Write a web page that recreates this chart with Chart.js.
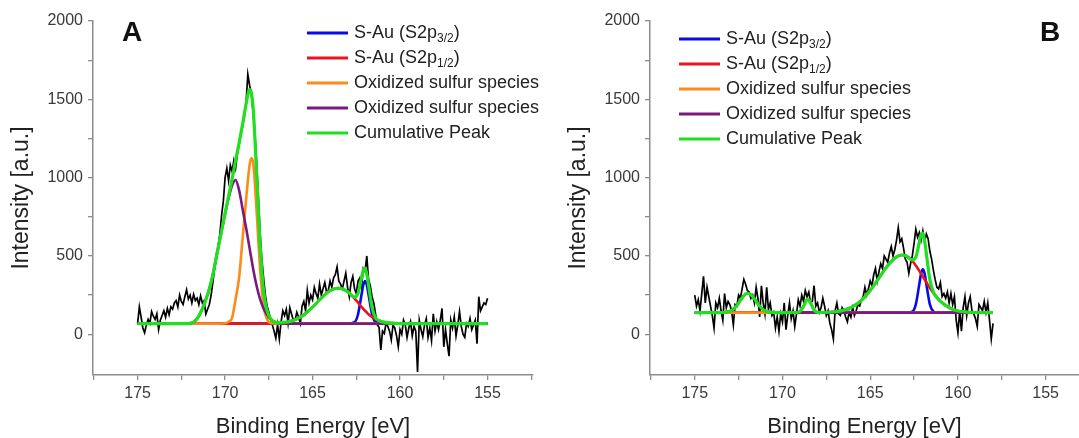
<!DOCTYPE html>
<html>
<head>
<meta charset="utf-8">
<title>S 2p spectra</title>
<script src="https://cdn.jsdelivr.net/npm/chart.js@4.4.1/dist/chart.umd.min.js"></script>
<style>
  html, body { margin: 0; padding: 0; background: #fff; overflow: hidden; }
  #wrap { position: relative; width: 1079px; height: 438px; }
  canvas { position: absolute; top: 0; }
  #chartA { left: 0; }
  #chartB { left: 557px; }
</style>
</head>
<body>
<div id="wrap">
  <canvas id="chartA" width="540" height="438"></canvas>
  <canvas id="chartB" width="522" height="438"></canvas>
</div>
<script>
// recorded spectra, first point at 175.0 eV, one point every 0.1 eV going down
const scanStart = 175.0;
const scanStep = 0.1;

const measuredA = [
  70, 175, 110, 40, 10, 60, 95, 70, 145, 115,
  95, 130, 30, 90, 120, 150, 110, 165, 125, 175,
  160, 200, 215, 175, 250, 210, 190, 240, 285, 225,
  250, 200, 255, 215, 230, 190, 245, 200, 215, 130,
  160, 190, 250, 330, 420, 480, 560, 640, 760, 850,
  1000, 1060, 980, 1080, 1040, 1110, 1060, 1150, 1210, 1280,
  1330, 1390, 1480, 1660, 1590, 1540, 1420, 1290, 1100, 880,
  650, 480, 360, 250, 180, 140, 100, 60, 20, -25,
  60, -30, 80, 150, 120, 160, 70, 170, 130, 90,
  90, 140, 110, 70, 180, 210, 150, 280, 200, 250,
  220, 300, 260, 230, 320, 250, 290, 330, 270, 280,
  340, 300, 360, 380, 430, 340, 320, 290, 340, 390,
  300, 240, 330, 370, 290, 260, 340, 360, 300, 420,
  400, 500, 350, 310, 240, 200, 130, 60, 45, -100,
  20, 5, 70, 50, 20, -35, 60, 40, -10, -80,
  30, 0, 90, 60, -20, 40, 80, -10, 50, 20,
  -240, 90, 30, -15, 60, 100, -20, 40, -40, 130,
  20, 80, 30, 90, 165, -80, 30, -60, -140, 90,
  40, 110, -10, 60, 145, 50, 0, -20, 70, 50,
  100, 30, 60, 90, -60, 240, 150, 175, 200, 190,
  230
];

const measuredB = [
  250, 180, 220, 150, 260, 370, 200, 300, 240, 180,
  120, 40, 200, 170, 230, 150, 90, 260, 170, 210,
  190, 150, 60, 190, 180, 250, 230, 290, 350, 320,
  280, 270, 230, 250, 200, 300, 230, 110, 310, 200,
  130, 300, 160, 200, 120, 140, 40, 110, 20, 130,
  80, 200, 30, 120, 200, 100, 150, 50, 130, 220,
  180, 250, 210, 280, 240, 270, 200, 210, 310, 180,
  200, 140, 170, 230, 180, 120, 150, 70, 30, -30,
  150, 200, 130, 120, 170, 150, 110, 80, 140, 110,
  170, 120, 150, 190, 180, 220, 240, 300, 250, 290,
  340, 310, 380, 420, 340, 400, 450, 420, 500, 480,
  460, 520, 560, 500, 540, 600, 680, 590, 610, 550,
  480, 460, 390, 450, 500, 580, 670, 620, 650, 600,
  660, 590, 640, 610, 530, 480, 410, 350, 300, 290,
  330, 240, 260, 230, 270, 200, 260, 190, 240, 90,
  10, 150, 20, 170, 240, 120, 200, 240, 150, 130,
  100, 50, 190, 170, 150, 210, 140, 200, 90, -30,
  70
];

// peak fit, panel A
const fitEnergyA = [175, 172.4, 172.0, 171.6, 171.2, 170.8, 170.4, 170.0, 169.8, 169.6,
  169.4, 169.2, 169.0, 168.8, 168.6, 168.5, 168.4, 168.2, 168.0, 167.8,
  167.6, 167.4, 167.0, 166.5, 166.0, 165.5, 165.0, 164.5, 164.0, 163.5,
  163.0, 162.6, 162.4, 162.2, 162.1, 162.0, 161.9, 161.8, 161.6, 161.4,
  161.2, 161.0, 160.5, 160.0, 155];
const s32A = [68, 68, 68, 68, 68, 68, 68, 68, 68, 68,
  68, 68, 68, 68, 68, 68, 68, 68, 68, 68,
  68, 68, 68, 68, 68, 68, 68, 68, 68, 68,
  68, 77, 128, 254, 315, 340, 315, 254, 128, 77,
  69, 68, 68, 68, 68];
const s12A = [68, 68, 68, 68, 68, 68, 68, 68, 68, 68,
  68, 68, 68, 68, 68, 68, 68, 68, 68, 68,
  68, 68, 71, 77, 93, 124, 173, 231, 278, 294,
  272, 228, 202, 175, 162, 150, 139, 128, 110, 96,
  86, 79, 71, 68, 68];
const oxA1 = [68, 68, 68, 68, 68, 68, 68, 70, 80, 105,
  225, 360, 610, 860, 1080, 1124, 1100, 790, 420, 180,
  95, 72, 68, 68, 68, 68, 68, 68, 68, 68,
  68, 68, 68, 68, 68, 68, 68, 68, 68, 68,
  68, 68, 68, 68, 68];
const oxA2 = [68, 68, 70, 100, 190, 330, 550, 770, 870, 950,
  985, 920, 800, 680, 550, 485, 420, 310, 225, 165,
  125, 95, 72, 68, 68, 68, 68, 68, 68, 68,
  68, 68, 68, 68, 68, 68, 68, 68, 68, 68,
  68, 68, 68, 68, 68];
const cumA = [68, 68, 70, 100, 190, 330, 550, 772, 882, 990,
  1110, 1220, 1340, 1470, 1562, 1541, 1452, 1032, 577, 277,
  152, 99, 75, 77, 93, 124, 173, 231, 278, 294,
  272, 237, 262, 361, 409, 422, 386, 314, 170, 105,
  87, 79, 71, 68, 68];

// peak fit, panel B
const fitEnergyB = [175, 173.6, 173.4, 173.0, 172.8, 172.6, 172.4, 172.2, 172.0, 171.8,
  171.6, 171.4, 171.2, 171.0, 170.6, 170.2, 169.6, 169.2, 169.0, 168.8,
  168.6, 168.5, 168.4, 168.2, 168.0, 167.8, 167.0, 166.5, 166.0, 165.5,
  165.0, 164.5, 164.0, 163.5, 163.2, 163.0, 162.6, 162.4, 162.2, 162.1,
  162.0, 161.9, 161.8, 161.6, 161.4, 161.2, 161.0, 160.5, 160.0, 159.5,
  159.0, 158.0];
const s32B = [138, 138, 138, 138, 138, 138, 138, 138, 138, 138,
  138, 138, 138, 138, 138, 138, 138, 138, 138, 138,
  138, 138, 138, 138, 138, 138, 138, 138, 138, 138,
  138, 138, 138, 138, 138, 138, 145, 191, 321, 387,
  415, 387, 321, 191, 145, 138, 138, 138, 138, 138,
  138, 138];
const s12B = [138, 138, 138, 138, 138, 138, 138, 138, 138, 138,
  138, 138, 138, 138, 138, 138, 138, 138, 138, 138,
  138, 138, 138, 138, 138, 139, 144, 154, 176, 216,
  279, 360, 439, 494, 506, 503, 468, 439, 405, 387,
  369, 350, 332, 296, 263, 235, 211, 170, 149, 142,
  139, 138];
const oxB1 = [138, 138, 138, 138, 138, 138, 138, 138, 138, 138,
  138, 138, 138, 138, 138, 138, 138, 139, 146, 179,
  221, 219, 200, 155, 140, 138, 138, 138, 138, 138,
  138, 138, 138, 138, 138, 138, 138, 138, 138, 138,
  138, 138, 138, 138, 138, 138, 138, 138, 138, 138,
  138, 138];
const oxB2 = [138, 138, 139, 147, 161, 184, 216, 247, 262, 253,
  226, 194, 167, 150, 140, 138, 138, 138, 138, 138,
  138, 138, 138, 138, 138, 138, 138, 138, 138, 138,
  138, 138, 138, 138, 138, 138, 138, 138, 138, 138,
  138, 138, 138, 138, 138, 138, 138, 138, 138, 138,
  138, 138];
const cumB = [138, 138, 139, 147, 161, 184, 216, 247, 262, 253,
  226, 194, 167, 150, 140, 138, 138, 139, 146, 179,
  221, 219, 200, 155, 140, 139, 144, 154, 176, 216,
  279, 360, 439, 494, 506, 503, 475, 492, 588, 636,
  646, 599, 515, 349, 270, 235, 211, 170, 149, 142,
  139, 138];

const seriesLabels = ['S-Au (S2p_{3/2})', 'S-Au (S2p_{1/2})', 'Oxidized sulfur species',
  'Oxidized sulfur species', 'Cumulative Peak'];
const yTicks = [0, 250, 500, 750, 1000, 1250, 1500, 1750, 2000];
const xTicks = [177.5, 175, 172.5, 170, 167.5, 165, 162.5, 160, 157.5, 155, 152.5];

const FONT = "'Liberation Sans', Arial, sans-serif";
const AXIS_GREY = '#8c8c8c';
const colors = ['#0a0ae6', '#e8141e', '#ff8a1a', '#7a1a7e', '#1fe01f'];
const widths = [2.6, 2.6, 2.6, 2.6, 3.2];
const drawOrder = [4, 3, 2, 1, 0];

function points(xs, ys) {
  return xs.map((x, i) => ({ x: x, y: ys[i] }));
}

function scanPoints(values) {
  return values.map((v, i) => ({ x: +(scanStart - i * scanStep).toFixed(1), y: v }));
}

// text with _{...} parts drawn as subscripts
function drawRichText(ctx, text, x, y, size) {
  const parts = text.split(/_\{([^}]*)\}/);
  parts.forEach((part, i) => {
    const sub = i % 2 === 1;
    ctx.font = (sub ? Math.round(size * 0.68) : size) + 'px ' + FONT;
    ctx.fillText(part, x, sub ? y + size * 0.3 : y);
    x += ctx.measureText(part).width;
  });
}

const panelDecor = {
  id: 'panelDecor',
  afterDraw(chart, args, opts) {
    const ctx = chart.ctx;
    ctx.save();
    ctx.fillStyle = '#111';
    ctx.textBaseline = 'alphabetic';
    ctx.font = 'bold 28px ' + FONT;
    ctx.fillText(opts.letter, opts.letterX, opts.letterY);

    ctx.textBaseline = 'middle';
    let row = 0;
    chart.data.datasets.forEach((ds) => {
      if (!ds.label) return;
      const y = opts.legendY + row * opts.rowGap;
      ctx.strokeStyle = ds.borderColor;
      ctx.lineWidth = 3;
      ctx.beginPath();
      ctx.moveTo(opts.legendX, y);
      ctx.lineTo(opts.legendX + 41, y);
      ctx.stroke();
      ctx.fillStyle = '#222';
      drawRichText(ctx, ds.label, opts.legendX + 47, y, 18);
      row++;
    });
    ctx.restore();
  }
};

function buildChart(id, fitE, fits, measured, xMin, decor, padRight) {
  const datasets = fits.map((ys, i) => ({
    label: seriesLabels[i],
    data: points(fitE, ys),
    borderColor: colors[i],
    borderWidth: widths[i],
    pointRadius: 0,
    cubicInterpolationMode: 'monotone',
    order: drawOrder[i]
  }));
  datasets.push({
    label: '',
    data: scanPoints(measured),
    borderColor: '#000',
    borderWidth: 1.7,
    pointRadius: 0,
    tension: 0,
    order: 5
  });

  return new Chart(document.getElementById(id), {
    type: 'line',
    data: { datasets: datasets },
    options: {
      responsive: false,
      animation: false,
      devicePixelRatio: 1,
      layout: { padding: { top: 21, right: padRight, left: 0, bottom: 0 } },
      plugins: {
        legend: { display: false },
        tooltip: { enabled: false },
        panelDecor: decor
      },
      scales: {
        x: {
          type: 'linear',
          reverse: true,
          min: xMin,
          max: 177.55,
          afterBuildTicks: (s) => {
            s.ticks = xTicks.filter(v => v >= s.min && v <= s.max).map(v => ({ value: v }));
          },
          afterFit: (s) => { s.height = 63; },
          ticks: {
            autoSkip: false,
            maxRotation: 0,
            padding: 4,
            color: '#3a3a3a',
            font: { family: FONT, size: 16 },
            callback: (v) => (v % 5 === 0 ? String(v) : '')
          },
          grid: { drawOnChartArea: false, drawTicks: true, tickLength: 5, color: AXIS_GREY, lineWidth: 1.3 },
          border: { display: true, color: AXIS_GREY, width: 1.5 },
          title: {
            display: true,
            text: 'Binding Energy [eV]',
            color: '#222',
            font: { family: FONT, size: 22, lineHeight: 1 },
            padding: { top: 0, bottom: 0 }
          }
        },
        y: {
          type: 'linear',
          min: -260,
          max: 2000,
          afterBuildTicks: (s) => {
            s.ticks = yTicks.map(v => ({ value: v }));
          },
          afterFit: (s) => { s.width = 93; },
          ticks: {
            autoSkip: false,
            padding: 5,
            color: '#3a3a3a',
            font: { family: FONT, size: 16 },
            callback: (v) => (v % 500 === 0 ? String(v) : '')
          },
          grid: { drawOnChartArea: false, drawTicks: true, tickLength: 5, color: AXIS_GREY, lineWidth: 1.3 },
          border: { display: true, color: AXIS_GREY, width: 1.5 },
          title: {
            display: true,
            text: 'Intensity [a.u.]',
            color: '#222',
            font: { family: FONT, size: 23, lineHeight: 1.2 },
            padding: { top: 8, bottom: 0 }
          }
        }
      }
    },
    plugins: [panelDecor]
  });
}

buildChart('chartA', fitEnergyA, [s32A, s12A, oxA1, oxA2, cumA], measuredA, 152.4,
  { letter: 'A', letterX: 122, letterY: 41, legendX: 307, legendY: 33, rowGap: 25 }, 7);

buildChart('chartB', fitEnergyB, [s32B, s12B, oxB1, oxB2, cumB], measuredB, 153.1,
  { letter: 'B', letterX: 483, letterY: 41, legendX: 122, legendY: 39, rowGap: 25 }, 0);
</script>
</body>
</html>
